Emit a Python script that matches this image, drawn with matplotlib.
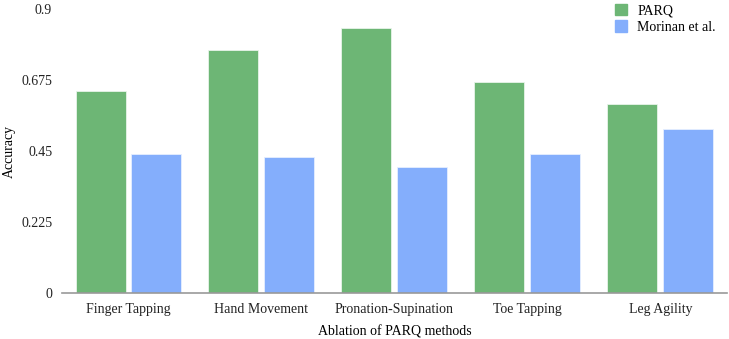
import matplotlib.pyplot as plt
import numpy as np
from matplotlib.patches import Patch

categories = ["Finger Tapping", "Hand Movement", "Pronation-Supination", "Toe Tapping", "Leg Agility"]
parq = [0.64, 0.77, 0.84, 0.67, 0.60]
morinan = [0.44, 0.43, 0.40, 0.44, 0.52]
yticks = [0, 0.225, 0.45, 0.675, 0.9]
ytick_labels = ["0", "0.225", "0.45", "0.675", "0.9"]

plt.rcParams["font.family"] = ["Liberation Serif", "DejaVu Serif"]

green = "#6db675"
blue = "#84aefc"

fig = plt.figure(figsize=(7.29, 3.39), dpi=100)
ax = fig.add_axes([0.085, 0.1357, 0.912, 0.838])

x = np.arange(len(categories))
w = 0.376
ax.bar(x - 0.21, parq, w, color=green, edgecolor="#e8f4ea", linewidth=0.6)
ax.bar(x + 0.21, morinan, w, color=blue, edgecolor="#e6eeff", linewidth=0.6)

ax.set_xlim(-0.5, len(categories) - 0.5)
ax.set_ylim(0, 0.9)
ax.set_yticks(yticks)
ax.set_yticklabels(ytick_labels)
ax.set_xticks(x)
ax.set_xticklabels(categories)
ax.tick_params(axis="both", length=0, labelsize=10, colors="#222222")
ax.tick_params(axis="y", pad=7)
ax.tick_params(axis="x", pad=7)

for s in ["top", "right", "left"]:
    ax.spines[s].set_visible(False)
ax.spines["bottom"].set_color("#999999")
ax.spines["bottom"].set_linewidth(1.2)

ax.set_ylabel("Accuracy", fontsize=10)
ax.yaxis.set_label_coords(-0.069, 0.5)
ax.set_xlabel("Ablation of PARQ methods", fontsize=10, labelpad=7)

handles = [Patch(color=green, label="PARQ"), Patch(color=blue, label="Morinan et al.")]
fig.legend(handles=handles, loc="upper left", bbox_to_anchor=(0.836, 1.005),
           frameon=False, fontsize=10, handlelength=0.9, handleheight=0.9,
           handletextpad=0.7, labelspacing=0.2, borderaxespad=0)

plt.savefig("out.png", dpi=100)
plt.close()
